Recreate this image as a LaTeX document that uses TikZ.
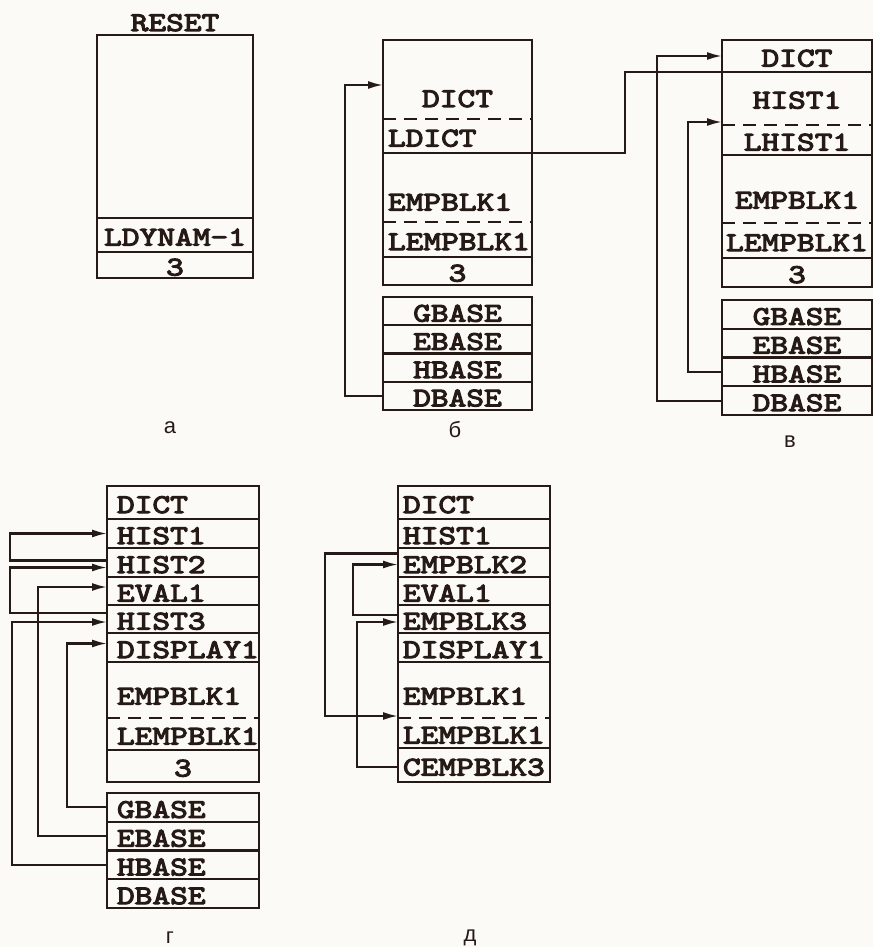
\documentclass[tikz,border=0pt]{standalone}
\usepackage{fontspec}
\setmainfont{Liberation Sans}
\setmonofont[Extension=.otf, FakeStretch=1.25, FakeBold=4]{lmmono10-regular}
\usetikzlibrary{arrows.meta, calc, positioning}
\definecolor{ink}{RGB}{38,26,22}
\definecolor{paper}{RGB}{251,250,246}
\newcommand{\cellfont}{\fontsize{27}{27}\selectfont\ttfamily}

\begin{document}
\begin{tikzpicture}[x=1pt, y=1pt,
    >={Latex[length=15pt,width=8pt]},
    slot/.style  ={inner sep=0pt, outer sep=0pt, font=\cellfont, text=ink,
                   text height=21pt, text depth=0pt},
    ac/.style    ={slot, minimum width=156pt, align=center},
    bc/.style    ={slot, minimum width=149pt, align=center},
    bl/.style    ={slot, inner xsep=5pt, text width=139pt, align=left},
    vc/.style    ={slot, minimum width=150pt, align=center},
    gc/.style    ={slot, minimum width=152pt, align=center},
    gl/.style    ={slot, inner xsep=10pt, text width=132pt, align=left},
    dl/.style    ={slot, inner xsep=5pt, text width=142pt, align=left},
    boxed/.style ={draw=ink, line width=2.4pt},
    frame/.style ={draw=ink, line width=2.4pt},
    dashsep/.style={draw=ink, line width=2.4pt, dash pattern=on 13pt off 8pt},
    ptr/.style   ={->, draw=ink, line width=2.1pt},
    wire/.style  ={draw=ink, line width=2.1pt},
    plabel/.style={font=\fontsize{22}{22}\selectfont, text=ink},
]
\fill[paper] (0,0) rectangle (873,-947);
\useasboundingbox (0,0) rectangle (873,-947);

% --- a: after RESET ---
\node[ac, anchor=north west, minimum height=183pt] (aFree) at (97,-35) {};
\node[ac, minimum height=34pt, below=0pt of aFree] (aLdyn) {LDYNAM-1};
\node[ac, minimum height=26pt, below=0pt of aLdyn] (aCnt) {3};
\node[slot, above=4pt of aFree] (aReset) {RESET};
\draw[frame] (aFree.north west) rectangle (aCnt.south east);
\draw[frame] (aLdyn.north west) -- (aLdyn.north east);
\draw[frame] (aCnt.north west) -- (aCnt.north east);
\node[plabel] (labA) at (170,-428) {а};

% --- b: dictionary loaded ---
\node[bc, anchor=north west, minimum height=79pt, text height=55pt] (bDict) at (383,-40) {DICT};
\node[bl, minimum height=34pt, below=0pt of bDict] (bLDict) {LDICT};
\node[bl, minimum height=69pt, text height=46pt, below=0pt of bLDict] (bEmp) {EMPBLK1};
\node[bl, minimum height=35pt, below=0pt of bEmp] (bLEmp) {LEMPBLK1};
\node[bc, minimum height=28pt, below=0pt of bLEmp] (bCnt) {3};
\draw[frame] (bDict.north west) rectangle (bCnt.south east);
\draw[dashsep] (bLDict.north west) -- (bLDict.north east);
\draw[frame] (bEmp.north west) -- (bEmp.north east);
\draw[dashsep] (bLEmp.north west) -- (bLEmp.north east);
\draw[frame] (bCnt.north west) -- (bCnt.north east);
\node[bc, boxed, minimum height=28.25pt, below=12pt of bCnt] (bG) {GBASE};
\node[bc, boxed, minimum height=28.25pt, below=0pt of bG] (bE) {EBASE};
\node[bc, boxed, minimum height=28.25pt, below=0pt of bE] (bH) {HBASE};
\node[bc, boxed, minimum height=28.25pt, below=0pt of bH] (bD) {DBASE};
\draw[ptr] (bD.west) -- ++(-38,0) |- ($(bDict.south west)+(0,34)$);
\node[plabel] (labB) at (455,-430) {б};

% --- v: first history block ---
\node[vc, anchor=north west, minimum height=32pt] (vDict) at (722,-40) {DICT};
\node[vc, minimum height=53pt, text height=20pt, below=0pt of vDict] (vHist) {HIST1};
\node[vc, minimum height=30pt, below=0pt of vHist] (vLHist) {LHIST1};
\node[vc, minimum height=68pt, text height=39pt, below=0pt of vLHist] (vEmp) {EMPBLK1};
\node[vc, minimum height=35pt, below=0pt of vEmp] (vLEmp) {LEMPBLK1};
\node[vc, minimum height=29pt, below=0pt of vLEmp] (vCnt) {3};
\draw[frame] (vDict.north west) rectangle (vCnt.south east);
\draw[frame] (vHist.north west) -- (vHist.north east);
\draw[dashsep] (vLHist.north west) -- (vLHist.north east);
\draw[frame] (vEmp.north west) -- (vEmp.north east);
\draw[dashsep] (vLEmp.north west) -- (vLEmp.north east);
\draw[frame] (vCnt.north west) -- (vCnt.north east);
\node[vc, boxed, minimum height=28.75pt, below=13pt of vCnt] (vG) {GBASE};
\node[vc, boxed, minimum height=28.75pt, below=0pt of vG] (vE) {EBASE};
\node[vc, boxed, minimum height=28.75pt, below=0pt of vE] (vH) {HBASE};
\node[vc, boxed, minimum height=28.75pt, below=0pt of vH] (vD) {DBASE};
\draw[ptr] (vD.west) -- ++(-65,0) |- (vDict.west);
\draw[ptr] (vH.west) -- ++(-34,0) |- ($(vHist.south west)+(0,3)$);
\draw[wire] (bLDict.south east) -- ++(93,0) |- (vDict.south west);
\node[plabel] (labV) at (790,-442) {в};

% --- g: several blocks chained ---
\node[gl, anchor=north west, minimum height=33pt] (gDict) at (107,-486) {DICT};
\node[gl, minimum height=29pt, below=0pt of gDict] (gH1) {HIST1};
\node[gl, minimum height=29pt, below=0pt of gH1] (gH2) {HIST2};
\node[gl, minimum height=28pt, below=0pt of gH2] (gE1) {EVAL1};
\node[gl, minimum height=28pt, below=0pt of gE1] (gH3) {HIST3};
\node[gl, minimum height=29pt, below=0pt of gH3] (gDisp) {DISPLAY1};
\node[gl, minimum height=56pt, text height=29pt, below=0pt of gDisp] (gEmp) {EMPBLK1};
\node[gl, minimum height=32pt, below=0pt of gEmp] (gLEmp) {LEMPBLK1};
\node[gc, minimum height=32pt, below=0pt of gLEmp] (gCnt) {3};
\draw[frame] (gDict.north west) rectangle (gCnt.south east);
\foreach \r in {gH1,gH2,gE1,gH3,gDisp,gEmp,gCnt}
  \draw[frame] (\r.north west) -- (\r.north east);
\draw[dashsep] (gLEmp.north west) -- (gLEmp.north east);
\node[gl, boxed, minimum height=28.75pt, below=11pt of gCnt] (gG) {GBASE};
\node[gl, boxed, minimum height=28.75pt, below=0pt of gG] (gE) {EBASE};
\node[gl, boxed, minimum height=28.75pt, below=0pt of gE] (gH) {HBASE};
\node[gl, boxed, minimum height=28.75pt, below=0pt of gH] (gD) {DBASE};
\draw[ptr] ($(gH2.west)+(0,2)$) -- ++(-97,0) |- (gH1.west);
\draw[ptr] ($(gH3.west)+(0,6)$) -- ++(-97,0) |- ($(gH2.west)+(0,-5)$);
\draw[ptr] (gE.west) -- ++(-69,0) |- ($(gE1.west)+(0,4)$);
\draw[ptr] (gH.west) -- ++(-95,0) |- ($(gH3.west)+(0,-3)$);
\draw[ptr] (gG.west) -- ++(-40,0) |- ($(gDisp.west)+(0,4)$);
\node[plabel] (labG) at (170,-938) {г};

% --- d: freed blocks in the empty list ---
\node[dl, anchor=north west, minimum height=33pt] (dDict) at (398,-486) {DICT};
\node[dl, minimum height=29pt, below=0pt of dDict] (dH1) {HIST1};
\node[dl, minimum height=29pt, below=0pt of dH1] (dEmp2) {EMPBLK2};
\node[dl, minimum height=28pt, below=0pt of dEmp2] (dE1) {EVAL1};
\node[dl, minimum height=28pt, below=0pt of dE1] (dEmp3) {EMPBLK3};
\node[dl, minimum height=29pt, below=0pt of dEmp3] (dDisp) {DISPLAY1};
\node[dl, minimum height=56pt, text height=29pt, below=0pt of dDisp] (dEmp1) {EMPBLK1};
\node[dl, minimum height=30pt, below=0pt of dEmp1] (dLEmp) {LEMPBLK1};
\node[dl, minimum height=34pt, below=0pt of dLEmp] (dC) {CEMPBLK3};
\draw[frame] (dDict.north west) rectangle (dC.south east);
\foreach \r in {dH1,dEmp2,dE1,dEmp3,dDisp,dEmp1,dC}
  \draw[frame] (\r.north west) -- (\r.north east);
\draw[dashsep] (dLEmp.north west) -- (dLEmp.north east);
\draw[ptr] ($(dEmp2.west)+(0,9)$) -- ++(-73,0) |- ($(dLEmp.north west)+(0,2)$);
\draw[ptr] ($(dEmp3.west)+(0,4)$) -- ++(-45,0) |- ($(dEmp2.west)+(0,-2)$);
\draw[ptr] ($(dC.west)+(0,-2)$) -- ++(-41,0) |- ($(dEmp3.west)+(0,-3)$);
\node[plabel] (labD) at (470,-938) {д};
\end{tikzpicture}
\end{document}
